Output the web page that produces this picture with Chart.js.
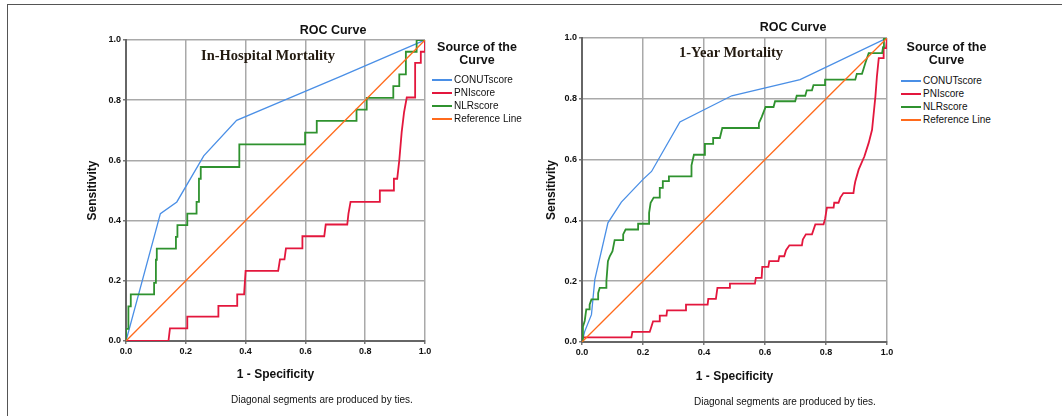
<!DOCTYPE html>
<html>
<head>
<meta charset="utf-8">
<script src="https://cdn.jsdelivr.net/npm/chart.js@4.4.1/dist/chart.umd.min.js"></script>
<style>
  body { margin: 0; background: #fff; width: 1062px; height: 416px; position: relative; overflow: hidden;
         font-family: "Liberation Sans", Arial, sans-serif; color: #111; }
  .frame { position: absolute; left: 7px; top: 4px; width: 1070px; height: 420px;
           border-top: 1.5px solid #555; border-left: 1.5px solid #555; }
  canvas { position: absolute; top: 0; }
  .t { position: absolute; white-space: nowrap; }
  .roc { font-weight: bold; font-size: 12.5px; line-height: 14px; width: 200px; text-align: center; }
  .inset { font-family: "Liberation Serif", "Times New Roman", serif; font-weight: bold; font-size: 14.5px;
           line-height: 16px; color: #231a10; }
  .lgTitle { font-weight: bold; font-size: 12.5px; line-height: 13px; width: 120px; text-align: center; }
  .lgItem { font-size: 10px; line-height: 12px; }
  .sw { position: absolute; width: 20px; height: 1.6px; }
  .note { font-size: 10px; line-height: 12px; }
</style>
</head>
<body>
<div class="frame"></div>
<canvas id="hosp" width="440" height="416" style="left:0"></canvas>
<canvas id="year" width="440" height="416" style="left:460px"></canvas>

<div class="t roc" style="left:233px;top:23px">ROC Curve</div>
<div class="t roc" style="left:693px;top:20px">ROC Curve</div>
<div class="t inset" style="left:201px;top:47px">In-Hospital Mortality</div>
<div class="t inset" style="left:679px;top:44px">1-Year Mortality</div>
<div class="t note" style="left:231px;top:394px">Diagonal segments are produced by ties.</div>
<div class="t note" style="left:694px;top:396px">Diagonal segments are produced by ties.</div>
<div id="legends"></div>

<script>
// series names and colours (legend order)
const seriesNames = ['CONUTscore', 'PNIscore', 'NLRscore', 'Reference Line'];
const seriesColors = ['#4a8fe6', '#e3173d', '#2f922f', '#ff6a1c'];
const tickValues = [0, 0.2, 0.4, 0.6, 0.8, 1.0];

// In-hospital mortality: 1 - specificity (x) and sensitivity (y)
const hospConutX = [0, 0.115, 0.17, 0.26, 0.37, 0.53, 0.72, 1];
const hospConutY = [0, 0.423, 0.462, 0.615, 0.733, 0.80, 0.88, 1];
const hospPniX = [0, 0.142, 0.147, 0.205, 0.205, 0.309, 0.309, 0.372, 0.372, 0.395, 0.40, 0.509, 0.515, 0.53, 0.535,
  0.59, 0.59, 0.663, 0.668, 0.74, 0.744, 0.751, 0.849, 0.849, 0.894, 0.896, 0.907, 0.914, 0.922, 0.930, 0.939,
  0.967, 0.967, 0.986, 0.986, 1, 1];
const hospPniY = [0, 0, 0.042, 0.042, 0.081, 0.081, 0.117, 0.117, 0.155, 0.155, 0.233, 0.233, 0.271, 0.271, 0.308,
  0.308, 0.348, 0.348, 0.387, 0.387, 0.423, 0.462, 0.462, 0.50, 0.50, 0.539, 0.539, 0.60, 0.694, 0.76, 0.809,
  0.809, 0.924, 0.924, 0.961, 0.961, 1];
const hospNlrX = [0, 0, 0.008, 0.008, 0.016, 0.016, 0.094, 0.094, 0.10, 0.10, 0.103, 0.103, 0.167, 0.167, 0.172, 0.172,
  0.205, 0.205, 0.236, 0.236, 0.244, 0.244, 0.25, 0.25, 0.379, 0.379, 0.599, 0.599, 0.638, 0.638, 0.771, 0.771,
  0.805, 0.805, 0.894, 0.894, 0.914, 0.914, 0.936, 0.936, 0.972, 0.972, 1];
const hospNlrY = [0, 0.04, 0.04, 0.115, 0.115, 0.155, 0.155, 0.193, 0.193, 0.27, 0.27, 0.307, 0.307, 0.346, 0.346, 0.385,
  0.385, 0.423, 0.423, 0.462, 0.462, 0.539, 0.539, 0.578, 0.578, 0.653, 0.653, 0.692, 0.692, 0.731, 0.731, 0.769,
  0.769, 0.808, 0.808, 0.847, 0.847, 0.886, 0.886, 0.961, 0.961, 1, 1];

// 1-year mortality
const yearConutX = [0, 0.009, 0.031, 0.042, 0.085, 0.129, 0.20, 0.228, 0.321, 0.491, 0.715, 1];
const yearConutY = [0, 0.035, 0.09, 0.205, 0.392, 0.46, 0.535, 0.561, 0.724, 0.81, 0.863, 1];
const yearPniX = [0, 0, 0.162, 0.165, 0.222, 0.228, 0.233, 0.253, 0.255, 0.277, 0.279, 0.341, 0.341, 0.412, 0.414,
  0.439, 0.444, 0.483, 0.485, 0.567, 0.57, 0.589, 0.591, 0.611, 0.614, 0.644, 0.647, 0.663, 0.669, 0.68, 0.721,
  0.724, 0.734, 0.754, 0.765, 0.792, 0.797, 0.803, 0.825, 0.827, 0.841, 0.847, 0.857, 0.89, 0.893, 0.896, 0.907,
  0.926, 0.94, 0.951, 0.962, 0.967, 0.973, 0.989, 0.989, 0.997, 1];
const yearPniY = [0, 0.015, 0.015, 0.033, 0.033, 0.052, 0.068, 0.068, 0.087, 0.087, 0.104, 0.104, 0.123, 0.123, 0.142,
  0.142, 0.178, 0.178, 0.192, 0.192, 0.211, 0.211, 0.247, 0.247, 0.266, 0.266, 0.282, 0.282, 0.302, 0.318, 0.318,
  0.337, 0.354, 0.354, 0.387, 0.387, 0.405, 0.442, 0.442, 0.458, 0.458, 0.475, 0.49, 0.49, 0.512, 0.528, 0.567,
  0.611, 0.655, 0.698, 0.808, 0.874, 0.934, 0.934, 0.967, 0.967, 1];
const yearNlrX = [0, 0.003, 0.009, 0.014, 0.025, 0.025, 0.031, 0.053, 0.053, 0.058, 0.08, 0.08, 0.085, 0.091, 0.10,
  0.107, 0.135, 0.135, 0.143, 0.184, 0.184, 0.22, 0.22, 0.225, 0.235, 0.255, 0.255, 0.265, 0.265, 0.285, 0.285,
  0.359, 0.359, 0.367, 0.403, 0.403, 0.43, 0.43, 0.452, 0.46, 0.58, 0.58, 0.589, 0.602, 0.628, 0.633, 0.699, 0.704,
  0.732, 0.737, 0.754, 0.759, 0.797, 0.797, 0.896, 0.901, 0.918, 0.923, 0.929, 0.94, 0.984, 0.987, 0.99, 1];
const yearNlrY = [0, 0.05, 0.07, 0.107, 0.107, 0.123, 0.14, 0.14, 0.161, 0.178, 0.178, 0.20, 0.266, 0.282, 0.299,
  0.335, 0.335, 0.354, 0.37, 0.37, 0.389, 0.389, 0.425, 0.458, 0.475, 0.475, 0.507, 0.507, 0.529, 0.529, 0.545,
  0.545, 0.581, 0.616, 0.616, 0.652, 0.652, 0.671, 0.671, 0.704, 0.704, 0.72, 0.74, 0.773, 0.773, 0.792, 0.792, 0.81,
  0.81, 0.828, 0.828, 0.845, 0.845, 0.863, 0.863, 0.882, 0.882, 0.898, 0.918, 0.95, 0.95, 0.97, 1, 1];

const refX = [0, 1];
const refY = [0, 1];

const font = "'Liberation Sans', Arial, sans-serif";
const pts = (xs, ys) => xs.map((x, i) => ({ x, y: ys[i] }));

function createRocChart(canvasId, series, box) {
    const widths = [1.3, 1.8, 1.8, 1.3];
    return new Chart(document.getElementById(canvasId), {
        type: 'scatter',
        data: {
            datasets: series.map((s, i) => ({
                label: seriesNames[i],
                data: pts(s[0], s[1]),
                showLine: true,
                borderColor: seriesColors[i],
                backgroundColor: seriesColors[i],
                borderWidth: widths[i],
                pointRadius: 0,
                tension: 0,
                order: 3 - i
            }))
        },
        options: {
            responsive: false,
            animation: false,
            layout: { padding: box.padding },
            plugins: { legend: { display: false }, tooltip: { enabled: false } },
            scales: {
                x: {
                    type: 'linear', min: 0, max: 1,
                    afterBuildTicks: s => { s.ticks = tickValues.map(v => ({ value: v })); },
                    afterFit: s => { s.height = box.xHeight; },
                    grid: { color: '#a9a9a9', lineWidth: 1.5, tickLength: 3, tickColor: '#777' },
                    border: { color: '#666', width: 2 },
                    ticks: { autoSkip: false, maxRotation: 0, padding: 2, color: '#111',
                             font: { family: font, size: 9, weight: 'bold' }, callback: v => v.toFixed(1) },
                    title: { display: true, text: '1 - Specificity', color: '#111', padding: 0,
                             font: { family: font, size: 12, weight: 'bold' } }
                },
                y: {
                    type: 'linear', min: 0, max: 1,
                    afterBuildTicks: s => { s.ticks = tickValues.map(v => ({ value: v })); },
                    afterFit: s => { s.width = box.yWidth; },
                    grid: { color: '#a9a9a9', lineWidth: 1.5, tickLength: 3, tickColor: '#777' },
                    border: { color: '#666', width: 2 },
                    ticks: { autoSkip: false, padding: 2, color: '#111',
                             font: { family: font, size: 9, weight: 'bold' }, callback: v => v.toFixed(1) },
                    title: { display: true, text: 'Sensitivity', color: '#111', padding: 0,
                             font: { family: font, size: 12, weight: 'bold' } }
                }
            }
        }
    });
}

createRocChart('hosp', [[hospConutX, hospConutY], [hospPniX, hospPniY], [hospNlrX, hospNlrY], [refX, refY]],
    { padding: { left: 85, top: 40, right: 15, bottom: 34 }, yWidth: 41, xHeight: 41 });
createRocChart('year', [[yearConutX, yearConutY], [yearPniX, yearPniY], [yearNlrX, yearNlrY], [refX, refY]],
    { padding: { left: 84, top: 38, right: 13, bottom: 32 }, yWidth: 38, xHeight: 42 });

// "Source of the Curve" legends
function buildLegend(titleCenter, lineLeft, firstRow) {
    const root = document.getElementById('legends');
    let html = `<div class="t lgTitle" style="left:${titleCenter - 60}px;top:40.5px">Source of the<br>Curve</div>`;
    seriesNames.forEach((name, i) => {
        const y = firstRow + i * 13;
        html += `<div class="sw" style="left:${lineLeft}px;top:${y - 0.8}px;background:${seriesColors[i]}"></div>`;
        html += `<div class="t lgItem" style="left:${lineLeft + 22}px;top:${y - 6}px">${name}</div>`;
    });
    root.insertAdjacentHTML('beforeend', html);
}
buildLegend(477, 432, 80);
buildLegend(946.5, 901, 81);
</script>
</body>
</html>
